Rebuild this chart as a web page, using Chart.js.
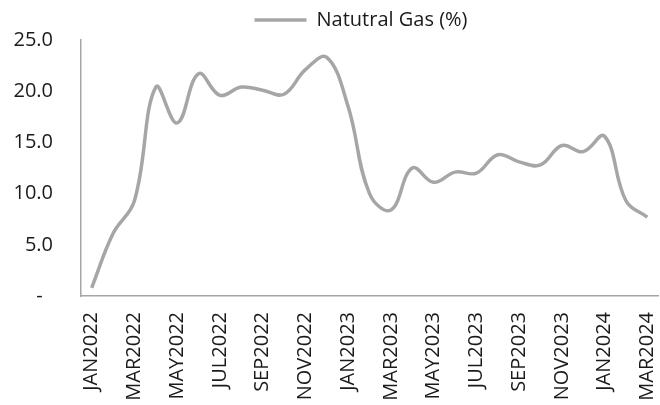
<!DOCTYPE html>
<html>
<head>
<meta charset="utf-8">
<script src="https://cdn.jsdelivr.net/npm/chart.js@4.4.0/dist/chart.umd.min.js"></script>
<style>
  html, body { margin: 0; padding: 0; background: #fff; overflow: hidden; }
  #wrap { width: 660px; height: 430px; }
</style>
</head>
<body>
<div id="wrap"><canvas id="gasChart"></canvas></div>
<script>
const months = ['JAN2022', 'FEB2022', 'MAR2022', 'APR2022', 'MAY2022', 'JUN2022', 'JUL2022', 'AUG2022', 'SEP2022', 'OCT2022', 'NOV2022', 'DEC2022',
    'JAN2023', 'FEB2023', 'MAR2023', 'APR2023', 'MAY2023', 'JUN2023', 'JUL2023', 'AUG2023', 'SEP2023', 'OCT2023', 'NOV2023', 'DEC2023',
    'JAN2024', 'FEB2024', 'MAR2024'];
const gasValues = [0.8, 6.1, 9.3, 20.4, 16.9, 21.7, 19.6, 20.4, 20.1, 19.7, 22.1, 23.3,
    18.5, 10.0, 8.4, 12.5, 11.1, 12.1, 12.0, 13.8, 13.1, 12.8, 14.7, 14.1,
    15.6, 9.3, 7.7];
const yTicks = [0, 5, 10, 15, 20, 25];

const font = { family: 'Open Sans', size: 20 };
const gray = '#a6a6a6';

// legend sits a bit right of centre in the original
const shiftLegend = {
    id: 'shiftLegend',
    afterLayout: (chart) => {
        chart.legend.left += 32;
        chart.legend.right += 32;
    }
};

const ctx = document.getElementById('gasChart').getContext('2d');
new Chart(ctx, {
    type: 'line',
    data: {
        labels: months,
        datasets: [{
            label: 'Natutral Gas (%)',
            data: gasValues,
            borderColor: gray,
            backgroundColor: gray,
            borderWidth: 3.5,
            pointRadius: 0,
            tension: 0.4
        }]
    },
    options: {
        responsive: true,
        maintainAspectRatio: false,
        animation: false,
        layout: { padding: { left: 0, right: 2, top: 3, bottom: 0 } },
        plugins: {
            legend: {
                labels: {
                    color: '#1a1a1a',
                    font: font,
                    usePointStyle: true,
                    pointStyle: 'line',
                    pointStyleWidth: 52,
                    padding: 6
                }
            },
            tooltip: { enabled: false }
        },
        scales: {
            x: {
                offset: true,
                grid: { display: false, drawTicks: false },
                border: { color: gray, width: 1.5 },
                afterFit: (scale) => {
                    scale.height = 430 - 296;
                    scale.paddingLeft = 0;
                    scale.paddingRight = 0;
                },
                ticks: {
                    color: '#1a1a1a',
                    font: font,
                    autoSkip: false,
                    minRotation: 90,
                    maxRotation: 90,
                    padding: 16,
                    callback: function (value, index) {
                        return index % 2 === 0 ? months[index] : '';
                    }
                }
            },
            y: {
                min: 0,
                max: 25,
                afterFit: (scale) => { scale.width = 81; },
                afterBuildTicks: (scale) => { scale.ticks = yTicks.map(v => ({ value: v })); },
                grid: { display: false, drawTicks: false },
                border: { color: gray, width: 1.5 },
                ticks: {
                    color: '#1a1a1a',
                    font: font,
                    padding: 28,
                    // accounting style: zero shown as a dash
                    callback: (value) => value === 0 ? '-  ' : value.toFixed(1)
                }
            }
        }
    },
    plugins: [shiftLegend]
});
</script>
</body>
</html>
